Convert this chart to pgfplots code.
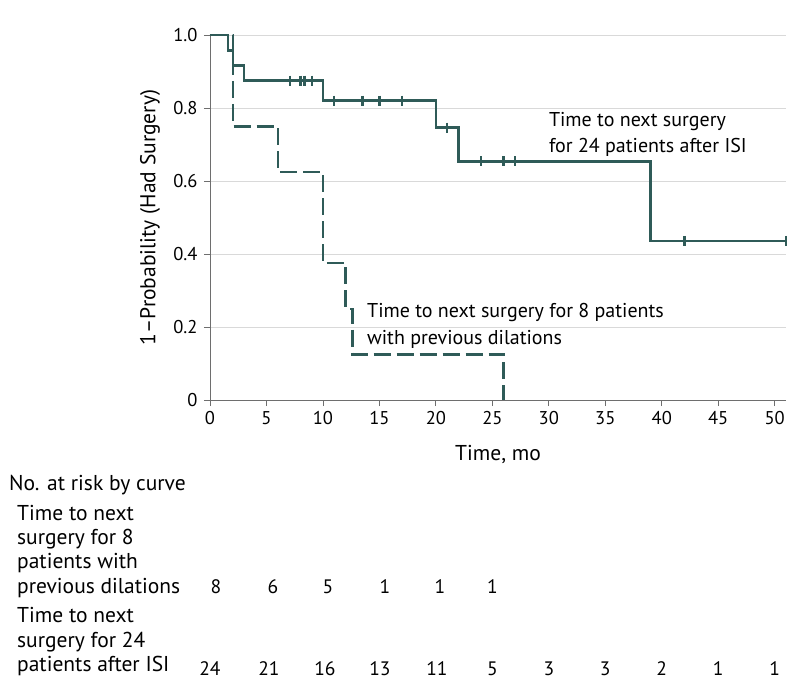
\documentclass[border=0pt]{standalone}
\usepackage{fontspec}
\setmainfont{PT Sans}
\usepackage{pgfplots}
\pgfplotsset{compat=1.18}
\definecolor{km}{HTML}{2F5B58}
\definecolor{gridc}{HTML}{D9D9D9}
\definecolor{axc}{HTML}{6E6E6E}
\newcommand{\txtfont}{\fontsize{21.5}{25}\selectfont}
\newcommand{\annfont}{\fontsize{20}{24}\selectfont}
\newcommand{\numfont}{\fontsize{19.5}{23}\selectfont}
\newcommand{\tickfont}{\fontsize{18.5}{22}\selectfont}
\begin{document}
\begin{tikzpicture}[every node/.style={font=\txtfont}]
\useasboundingbox (-210pt,-296pt) rectangle (588pt,400pt);
\begin{axis}[
 at={(0,0)}, anchor=south west,
 scale only axis, width=576pt, height=365pt,
 xmin=0, xmax=51, ymin=0, ymax=1,
 axis lines*=left,
 axis line style={axc, line width=0.8pt},
 xtick={0,5,...,50}, ytick={0,0.2,0.4,0.6,0.8,1},
 yticklabels={0,0.2,0.4,0.6,0.8,1.0},
 tick align=outside, major tick length=6pt,
 tick style={axc, line width=0.8pt},
 tick label style={font=\tickfont},
 xticklabel style={yshift=-2pt},
 yticklabel style={xshift=-3pt},
 ymajorgrids, grid style={gridc, line width=0.8pt},
 /pgf/number format/assume math mode=true,
 clip=false,
 xlabel={Time, mo}, ylabel={1--Probability (Had Surgery)},
 every axis x label/.style={at={(axis description cs:0.5,0)}, yshift=-60pt, anchor=base, font=\txtfont},
 every axis y label/.style={at={(axis description cs:-0.1042,0.5)}, rotate=90, anchor=center, font=\txtfont},
]
\addplot[km, line width=2.5pt, dash pattern=on 17pt off 6pt, const plot] coordinates {(0,1) (2.05,0.75) (6,0.625) (10,0.375) (12,0.25) (12.6,0.125) (26,0)};
\addplot[km, line width=2.5pt, const plot] coordinates {(0,1) (1.6,0.958) (2.05,0.917) (3,0.875) (10,0.820) (20,0.746) (22,0.654) (39,0.436) (51,0.436)};
\addplot[km, line width=2.4pt, only marks, mark=|, mark size=5pt, mark options={solid, line width=2.4pt}] coordinates {(7.1,0.875) (8,0.875) (8.35,0.875) (9.05,0.875) (11,0.820) (13.5,0.820) (15,0.820) (17,0.820) (21,0.746) (24,0.654) (26,0.654) (27,0.654) (42,0.436) (51,0.436)};
\node[font=\annfont, inner xsep=0pt, anchor=base west] at (axis cs:30,0.748) {Time to next surgery};
\node[font=\annfont, inner xsep=0pt, anchor=base west] at (axis cs:30,0.677) {for 24 patients after ISI};
\node[font=\annfont, inner xsep=0pt, anchor=base west] at (axis cs:13.9,0.225) {Time to next surgery for 8 patients};
\node[font=\annfont, inner xsep=0pt, anchor=base west] at (axis cs:13.9,0.151) {with previous dilations};
% risk numbers, row 1
\node[font=\numfont, anchor=base, xshift=6pt, yshift=-193pt] at (axis cs:0,0) {8};
\node[font=\numfont, anchor=base, xshift=6.5pt, yshift=-193pt] at (axis cs:5,0) {6};
\node[font=\numfont, anchor=base, xshift=5pt, yshift=-193pt] at (axis cs:10,0) {5};
\node[font=\numfont, anchor=base, xshift=5.5pt, yshift=-193pt] at (axis cs:15,0) {1};
\node[font=\numfont, anchor=base, xshift=4pt, yshift=-193pt] at (axis cs:20,0) {1};
\node[font=\numfont, anchor=base, xshift=0pt, yshift=-193pt] at (axis cs:25,0) {1};
% row 2
\node[font=\numfont, anchor=base, xshift=0pt, yshift=-275pt] at (axis cs:0,0) {24};
\node[font=\numfont, anchor=base, xshift=2.5pt, yshift=-275pt] at (axis cs:5,0) {21};
\node[font=\numfont, anchor=base, xshift=2pt, yshift=-275pt] at (axis cs:10,0) {16};
\node[font=\numfont, anchor=base, xshift=0.5pt, yshift=-275pt] at (axis cs:15,0) {13};
\node[font=\numfont, anchor=base, xshift=1pt, yshift=-275pt] at (axis cs:20,0) {11};
\node[font=\numfont, anchor=base, yshift=-275pt] at (axis cs:25,0) {5};
\node[font=\numfont, anchor=base, yshift=-275pt] at (axis cs:30,0) {3};
\node[font=\numfont, anchor=base, yshift=-275pt] at (axis cs:35,0) {3};
\node[font=\numfont, anchor=base, yshift=-275pt] at (axis cs:40,0) {2};
\node[font=\numfont, anchor=base, yshift=-275pt] at (axis cs:45,0) {1};
\node[font=\numfont, anchor=base, yshift=-275pt] at (axis cs:50,0) {1};
\end{axis}
\begin{scope}[every node/.append style={inner xsep=0pt, anchor=base west}]
\node at (-201pt,-90pt) {No. at risk by curve};
\node at (-193pt,-120pt) {Time to next};
\node at (-193pt,-144pt) {surgery for 8};
\node at (-193pt,-168pt) {patients with};
\node at (-193pt,-193pt) {previous dilations};
\node at (-193pt,-222pt) {Time to next};
\node at (-193pt,-247pt) {surgery for 24};
\node at (-193pt,-271pt) {patients after ISI};
\end{scope}
\end{tikzpicture}
\end{document}
